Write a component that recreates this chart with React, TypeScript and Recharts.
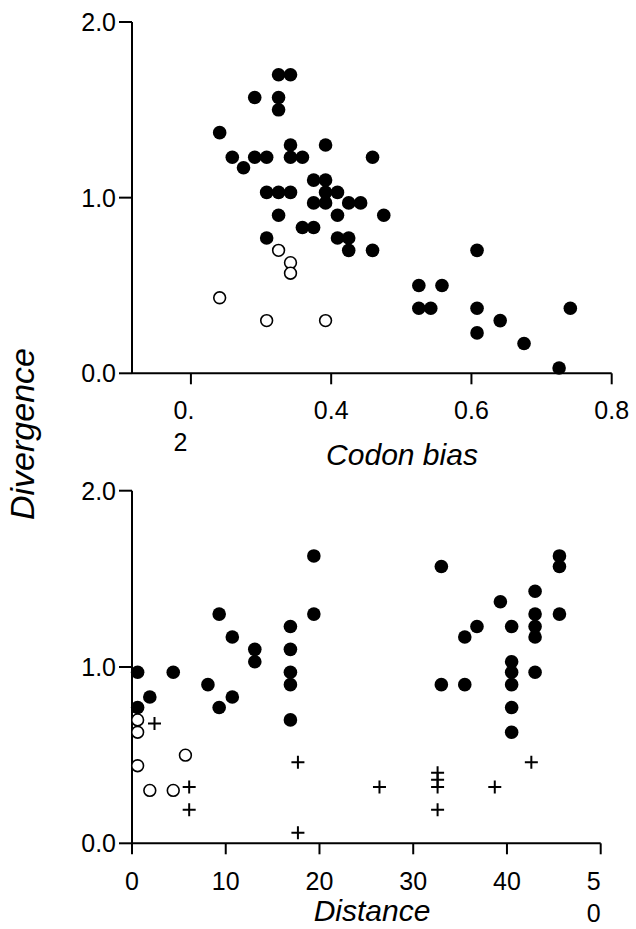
import React from 'react';
import { ScatterChart, Scatter, XAxis, YAxis, Label } from 'recharts';

// ---- Top panel: Codon bias vs Divergence ----
const topFilled: [number, number][] = [
  [0.325, 1.70], [0.342, 1.70],
  [0.291, 1.57], [0.325, 1.57], [0.325, 1.50],
  [0.241, 1.37],
  [0.342, 1.30], [0.392, 1.30],
  [0.259, 1.23], [0.291, 1.23], [0.308, 1.23], [0.342, 1.23], [0.359, 1.23], [0.459, 1.23],
  [0.275, 1.17],
  [0.375, 1.10], [0.392, 1.10],
  [0.308, 1.03], [0.325, 1.03], [0.342, 1.03], [0.392, 1.03], [0.409, 1.03],
  [0.375, 0.97], [0.392, 0.97], [0.425, 0.97], [0.442, 0.97],
  [0.325, 0.90], [0.409, 0.90], [0.475, 0.90],
  [0.359, 0.83], [0.375, 0.83],
  [0.308, 0.77], [0.409, 0.77], [0.425, 0.77],
  [0.425, 0.70], [0.459, 0.70], [0.608, 0.70],
  [0.525, 0.50], [0.558, 0.50],
  [0.525, 0.37], [0.542, 0.37], [0.608, 0.37], [0.741, 0.37],
  [0.641, 0.30],
  [0.608, 0.23],
  [0.675, 0.17],
  [0.725, 0.03],
];
const topOpen: [number, number][] = [
  [0.325, 0.70], [0.342, 0.63], [0.342, 0.57], [0.241, 0.43], [0.308, 0.30], [0.392, 0.30],
];
const topXTicks = [0.2, 0.4, 0.6, 0.8];
const topXTickLabels: string[][] = [['0.', '2'], ['0.4'], ['0.6'], ['0.8']];
const topXDomain: [number, number] = [0.116, 0.8];

// ---- Bottom panel: Distance vs Divergence ----
const bottomFilled: [number, number][] = [
  [0.6, 0.97], [1.9, 0.83], [0.6, 0.77], [4.4, 0.97], [8.1, 0.90],
  [9.3, 1.30], [9.3, 0.77], [10.7, 1.17], [10.7, 0.83],
  [13.1, 1.10], [13.1, 1.03],
  [16.9, 1.23], [16.9, 1.10], [16.9, 0.97], [16.9, 0.90], [16.9, 0.70],
  [19.4, 1.63], [19.4, 1.30],
  [33.0, 1.57], [33.0, 0.90], [35.5, 1.17], [35.5, 0.90], [36.8, 1.23], [39.3, 1.37],
  [40.5, 1.23], [40.5, 1.03], [40.5, 0.97], [40.5, 0.90], [40.5, 0.77], [40.5, 0.63],
  [43.0, 1.43], [43.0, 1.30], [43.0, 1.23], [43.0, 1.17], [43.0, 0.97],
  [45.6, 1.63], [45.6, 1.57], [45.6, 1.30],
];
const bottomOpen: [number, number][] = [
  [0.6, 0.70], [0.6, 0.63], [0.6, 0.44], [1.9, 0.30], [4.4, 0.30], [5.7, 0.50],
];
const bottomPlus: [number, number][] = [
  [2.4, 0.68], [6.1, 0.32], [6.1, 0.19], [17.7, 0.46], [17.7, 0.06], [26.4, 0.32],
  [32.6, 0.40], [32.6, 0.36], [32.6, 0.32], [32.6, 0.19], [38.7, 0.32], [42.6, 0.46],
];
const bottomXTicks = [0, 10, 20, 30, 40, 50];
const bottomXTickLabels: string[][] = [['0'], ['10'], ['20'], ['30'], ['40'], ['5', '0']];

const yTicks = [0, 1, 2];
const yTickLabels = ['0.0', '1.0', '2.0'];

const FONT = '"Liberation Sans", Arial, Helvetica, sans-serif';
const TICK_FS = 25;

const toPts = (arr: [number, number][]) => arr.map(([x, y]) => ({ x, y }));

const FilledDot = (p: any) => <circle cx={p.cx} cy={p.cy} r={6.8} fill="#000" />;
const OpenDot = (p: any) => (
  <circle cx={p.cx} cy={p.cy} r={5.9} fill="#fff" stroke="#000" strokeWidth={1.6} />
);
const PlusMark = (p: any) => (
  <path
    d={`M${p.cx - 6.5},${p.cy}H${p.cx + 6.5}M${p.cx},${p.cy - 6.5}V${p.cy + 6.5}`}
    stroke="#000"
    strokeWidth={2}
    fill="none"
  />
);

const makeXTick = (ticks: number[], labels: string[][]) => (props: any) => {
  const { x, y, payload } = props;
  const idx = ticks.indexOf(payload.value);
  const lines = idx >= 0 ? labels[idx] : [String(payload.value)];
  if (lines.length === 1) {
    return (
      <text x={x} y={y} dy="0.71em" textAnchor="middle" fontSize={TICK_FS} fill="#000" fontFamily={FONT}>
        {lines[0]}
      </text>
    );
  }
  const full = lines.join('');
  const startX = x - (full.length * 0.556 * TICK_FS) / 2 + (full.includes('.') ? 0.14 * TICK_FS : 0);
  return (
    <g>
      {lines.map((ln, i) => (
        <text key={i} x={startX} y={y + i * 32} dy="0.71em" textAnchor="start" fontSize={TICK_FS} fill="#000" fontFamily={FONT}>
          {ln}
        </text>
      ))}
    </g>
  );
};

const yFmt = (v: number) => {
  const i = yTicks.indexOf(v);
  return i >= 0 ? yTickLabels[i] : String(v);
};

const axisLineStyle = { stroke: '#000', strokeWidth: 2 };

export default function App() {
  return (
    <div style={{ position: 'absolute', left: 0, top: 0, width: 636, height: 929, background: '#fff', fontFamily: FONT }}>
      <ScatterChart width={636} height={470} margin={{ top: 22, right: 24.3, left: 0, bottom: 0 }}>
        <XAxis
          dataKey="x"
          type="number"
          domain={topXDomain}
          allowDataOverflow
          ticks={topXTicks}
          tick={makeXTick(topXTicks, topXTickLabels)}
          tickSize={11}
          tickMargin={17}
          axisLine={axisLineStyle}
          tickLine={axisLineStyle}
          height={96.7}
        >
          <Label
            content={() => (
              <text x={402} y={465} textAnchor="middle" fontSize={30} fontStyle="italic" fill="#000" fontFamily={FONT}>
                Codon bias
              </text>
            )}
          />
        </XAxis>
        <YAxis
          dataKey="y"
          type="number"
          domain={[0, 2]}
          ticks={yTicks}
          tickFormatter={yFmt}
          tick={{ fill: '#000', fontSize: TICK_FS, fontFamily: FONT }}
          tickSize={13}
          tickMargin={3}
          axisLine={axisLineStyle}
          tickLine={axisLineStyle}
          width={132}
        />
        <Scatter data={toPts(topFilled)} shape={FilledDot} isAnimationActive={false} />
        <Scatter data={toPts(topOpen)} shape={OpenDot} isAnimationActive={false} />
      </ScatterChart>
      <div style={{ position: 'absolute', left: 0, top: 470 }}>
        <ScatterChart width={636} height={459} margin={{ top: 20.7, right: 35.3, left: 0, bottom: 0 }}>
          <XAxis
            dataKey="x"
            type="number"
            domain={[0, 50]}
            ticks={bottomXTicks}
            tick={makeXTick(bottomXTicks, bottomXTickLabels)}
            tickSize={11}
            tickMargin={18}
            axisLine={axisLineStyle}
            tickLine={axisLineStyle}
            height={85.7}
          >
            <Label
              content={() => (
                <text x={372} y={451} textAnchor="middle" fontSize={30} fontStyle="italic" fill="#000" fontFamily={FONT}>
                  Distance
                </text>
              )}
            />
          </XAxis>
          <YAxis
            dataKey="y"
            type="number"
            domain={[0, 2]}
            ticks={yTicks}
            tickFormatter={yFmt}
            tick={{ fill: '#000', fontSize: TICK_FS, fontFamily: FONT }}
            tickSize={13}
            tickMargin={3}
            axisLine={axisLineStyle}
            tickLine={axisLineStyle}
            width={132}
          />
          <Scatter data={toPts(bottomFilled)} shape={FilledDot} isAnimationActive={false} />
          <Scatter data={toPts(bottomOpen)} shape={OpenDot} isAnimationActive={false} />
          <Scatter data={toPts(bottomPlus)} shape={PlusMark} isAnimationActive={false} />
        </ScatterChart>
      </div>
      <svg width={60} height={300} style={{ position: 'absolute', left: 0, top: 284 }}>
        <text
          x={34}
          y={150}
          transform="rotate(-90, 34, 150)"
          textAnchor="middle"
          fontSize={34}
          fontStyle="italic"
          fill="#000"
          fontFamily={FONT}
        >
          Divergence
        </text>
      </svg>
    </div>
  );
}
